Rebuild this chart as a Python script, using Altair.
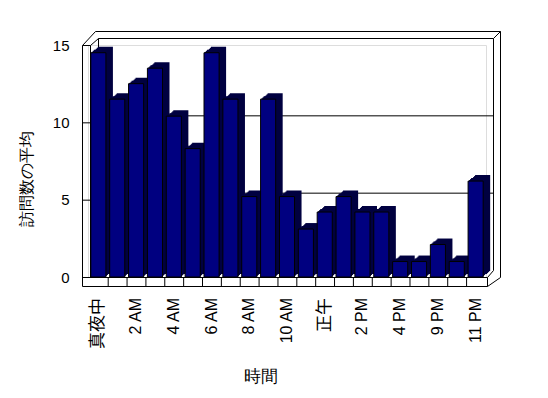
import altair as alt
import pandas as pd

# ---- data ----
hours = ["真夜中", "1 AM", "2 AM", "3 AM", "4 AM", "5 AM", "6 AM", "7 AM", "8 AM",
         "9 AM", "10 AM", "11 AM", "正午", "1 PM", "2 PM", "3 PM", "4 PM", "5 PM",
         "9 PM", "10 PM", "11 PM"]
visits = [14.5, 11.5, 12.5, 13.5, 10.4, 8.3, 14.5, 11.5, 5.2, 11.5, 5.2, 3.1,
          4.2, 5.2, 4.2, 4.2, 1.0, 1.0, 2.1, 1.0, 6.2]
y_ticks = [0, 5, 10, 15]
wall_grid = [5, 10, 15]
side_ticks = [5, 10]

df = pd.DataFrame({"hour": hours, "visits": visits, "idx": list(range(len(hours)))})
one = pd.DataFrame({"a": [0]})

W, H = 398, 232
FONT = "Liberation Sans, Noto Sans CJK JP"
FRONT = "#000080"
SHADE = "#000040"

x_scale = alt.Scale(domain=hours, paddingInner=0.2, paddingOuter=0.15)
y_scale = alt.Scale(domain=[0, 15], nice=False, zero=True)

x_axis = alt.Axis(
    labels=False, ticks=False, domain=False, grid=False,
    titleFontSize=17, titleFontWeight="normal", titleColor="black",
    titleX=172, titleY=99, titleBaseline="middle", titleAlign="center",
)
y_axis = alt.Axis(
    values=y_ticks, ticks=False, domain=False, grid=False,
    labelPadding=19, labelFontSize=15, labelColor="black",
    titleFontSize=16, titleFontWeight="normal", titleColor="black",
    titleX=-62, titleY=133, titleAngle=270, titleAlign="center",
    titleBaseline="middle",
)


def X(**kw):
    return alt.X("hour:N", sort=hours, scale=x_scale, axis=x_axis, title="時間", **kw)


def Y(field):
    return alt.Y(field, scale=y_scale, axis=y_axis, title="訪問数の平均")


def seg(x, y, x2, y2):
    return alt.Chart(one).mark_rule(color="black", strokeWidth=1).encode(
        x=alt.value(x), y=alt.value(y), x2=alt.value(x2), y2=alt.value(y2)
    )


# back wall
back = [
    seg(7.5, -13.5, 412.5, -13.5),      # outer top
    seg(412.5, -13.5, 412.5, 232.5),    # outer right
    seg(405.5, -6.5, 405.5, 225.5),     # inner right
    seg(405.5, -6.5, 412.5, -13.5),     # top-right corner
    seg(10.5, -6.5, 10.5, 225.5),       # inner left
    seg(-5.5, 0.5, 7.5, -13.5),         # left wall outer diagonal
    seg(2.5, 0.5, 10.5, -6.5),          # left wall inner diagonal
]

grid = alt.Chart(pd.DataFrame({"g": wall_grid})).mark_rule(
    color="black", strokeWidth=1, yOffset=-6.5
).encode(
    y=Y("g:Q"),
    x=alt.value(10.5), x2=alt.value(405.5),
)

side = alt.Chart(pd.DataFrame({"g": side_ticks})).mark_rule(
    color="black", strokeWidth=1, yOffset=0.5
).encode(
    y=Y("g:Q"),
    x=alt.value(-5.5), x2=alt.value(2.5),
)

# bar extrusion (top and side faces)
shade_layers = []
for k in range(7, 0, -1):
    dy = -round(k * 6 / 7)
    shade_layers.append(
        alt.Chart(df).mark_bar(
            color=SHADE, xOffset=k, x2Offset=k, yOffset=dy, y2Offset=dy
        ).encode(x=X(), y=Y("visits:Q"))
    )

front = alt.Chart(df).mark_bar(color=FRONT, stroke="black", strokeWidth=1).encode(
    x=X(), y=Y("visits:Q")
)

# category labels (every other hour), rotated
labels = alt.Chart(df).transform_filter("datum.idx % 2 == 0").mark_text(
    angle=270, align="right", baseline="middle", font=FONT, color="black"
).encode(
    x=X(),
    y=alt.value(H + 21),
    text="hour:N",
    size=alt.condition("datum.hour == '真夜中' || datum.hour == '正午'",
                       alt.value(17), alt.value(16)),
)

# floor and left wall front
dividers = alt.Chart(df).transform_filter("datum.idx > 0").mark_rule(
    color="black", strokeWidth=1, xOffset=-1.5
).encode(
    x=X(bandPosition=0),
    y=alt.value(232), y2=alt.value(241),
)

frontframe = [
    seg(-5.5, 0.5, -5.5, 241.5),       # left wall outer
    seg(2.5, 0.5, 2.5, 232.5),         # left wall inner
    seg(-5.5, 0.5, 2.5, 0.5),          # left wall top
    seg(-5.5, 232.5, 399.5, 232.5),    # floor top
    seg(-5.5, 241.5, 399.5, 241.5),    # floor bottom
    seg(399.5, 241.5, 412.5, 232.5),   # floor right diagonal
    seg(399.5, 232.5, 405.5, 225.5),   # floor inner diagonal
    seg(399.5, 232.5, 399.5, 241.5),   # floor right end
]

chart = alt.layer(
    *back, grid, *shade_layers, front, side, dividers, *frontframe, labels
).properties(
    width=W, height=H,
    autosize=alt.AutoSizeParams(type="none"),
    padding={"left": 88, "top": 45, "right": 62, "bottom": 121},
).configure_view(stroke=None).configure_axis(
    labelFont=FONT, titleFont=FONT
).configure(background="white")

chart.save("out.html", embed_options={"renderer": "svg", "actions": False})
